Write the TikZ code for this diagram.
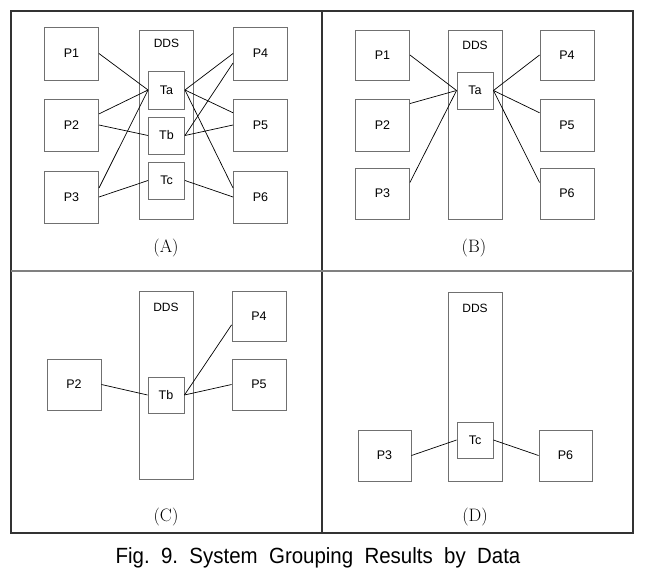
\documentclass[tikz,border=0pt]{standalone}
\usepackage{fontspec}
\setsansfont{Liberation Sans}
\newfontfamily\capfont[FakeStretch=0.93]{Liberation Sans}
\usetikzlibrary{calc}
\definecolor{boxgray}{HTML}{707070}
\definecolor{framegray}{HTML}{333333}
\begin{document}
\begin{tikzpicture}[x=1pt,y=-1pt,
  pbox/.style={draw=boxgray,line width=0.9pt,minimum width=54pt,minimum height=51pt,inner sep=0pt,font=\sffamily\fontsize{12.5}{12.5}\selectfont},
  tbox/.style={draw=boxgray,line width=0.9pt,minimum width=36pt,minimum height=37pt,inner sep=0pt,font=\sffamily\fontsize{12.5}{12.5}\selectfont},
  ddsbox/.style={draw=boxgray,line width=0.9pt,minimum width=54pt,minimum height=189pt,inner sep=0pt},
  ddslabel/.style={font=\sffamily\fontsize{12}{12}\selectfont,inner sep=0pt},
  panellabel/.style={font=\fontsize{18}{18}\selectfont,inner sep=0pt},
  conn/.style={draw=black,line width=0.7pt},
  frame/.style={draw=framegray,line width=1.8pt}
]
\useasboundingbox (0,0) rectangle (653,575);
% frame
\draw[frame] (11,11) rectangle (633,533);
\coordinate (vt) at (322,11);
\coordinate (vb) at (322,533);
\coordinate (hl) at (11,271);
\coordinate (hr) at (633,271);
\draw[frame,line width=1.2pt] (vt) -- (vb);
\draw[frame,draw=gray,line width=1.6pt] (hl) -- (hr);

% ---------- Panel A ----------
\node[ddsbox] (ddsA) at (166.5,125) {};
\node[ddslabel] (ddsAl) at (166.5,43) {DDS};
\node[pbox,minimum height=53pt] (A1) at (71.5,53.5) {P1};
\node[pbox,minimum height=52pt] (A2) at (71.5,125) {P2};
\node[pbox,minimum height=52pt] (A3) at (71.5,197) {P3};
\node[pbox,minimum height=53pt] (A4) at (260.5,53.5) {P4};
\node[pbox,minimum height=52pt] (A5) at (260.5,125) {P5};
\node[pbox,minimum height=52pt] (A6) at (260.5,197) {P6};
\node[tbox,minimum height=38pt] (Ta) at (166.5,90) {Ta};
\node[tbox] (Tb) at (166.5,135.5) {Tb};
\node[tbox] (Tc) at (166.5,180.5) {Tc};
\draw[conn] (A1.east) -- (Ta.west);
\draw[conn] (A2.22) -- (Ta.west);
\draw[conn] (A2.east) -- (Tb.west);
\draw[conn] (A3.18) -- (Ta.west);
\draw[conn] (A3.east) -- (Tc.west);
\draw[conn] (Ta.east) -- (A4.west);
\draw[conn] (Ta.east) -- (A5.156);
\draw[conn] (Ta.east) -- (A6.162);
\draw[conn] (Tb.east) -- (A4.199);
\draw[conn] (Tb.east) -- (A5.west);
\draw[conn] (Tc.east) -- (A6.west);
\node[panellabel] (labA) at (166,248) {(A)};

% ---------- Panel B ----------
\node[ddsbox] (ddsB) at (475,124.5) {};
\node[ddslabel] (ddsBl) at (475,45) {DDS};
\node[pbox,minimum height=50pt] (B1) at (382.5,55) {P1};
\node[pbox,minimum height=52pt] (B2) at (382.5,125) {P2};
\node[pbox] (B3) at (382.5,193.5) {P3};
\node[pbox,minimum height=50pt] (B4) at (567,55) {P4};
\node[pbox,minimum height=52pt] (B5) at (567,125) {P5};
\node[pbox] (B6) at (567,193.5) {P6};
\node[tbox] (TaB) at (475,90.5) {Ta};
\draw[conn] (B1.east) -- (TaB.west);
\draw[conn] (B2.38) -- (TaB.west);
\draw[conn] (B3.22) -- (TaB.west);
\draw[conn] (TaB.east) -- (B4.west);
\draw[conn] (TaB.east) -- (B5.156);
\draw[conn] (TaB.east) -- (B6.158);
\node[panellabel] (labB) at (474,248) {(B)};

% ---------- Panel C ----------
\node[ddsbox,minimum height=188pt] (ddsC) at (166,385) {};
\node[ddslabel] (ddsCl) at (166,307) {DDS};
\node[pbox] (C2) at (74,384.5) {P2};
\node[pbox,minimum height=50pt] (C4) at (259,316) {P4};
\node[pbox] (C5) at (259,384.5) {P5};
\node[tbox,minimum height=36pt] (TbC) at (166,395) {Tb};
\draw[conn] (C2.east) -- (TbC.west);
\draw[conn] (TbC.east) -- (C4.198);
\draw[conn] (TbC.east) -- (C5.west);
\node[panellabel] (labC) at (166,517) {(C)};

% ---------- Panel D ----------
\node[ddsbox] (ddsD) at (475,386.5) {};
\node[ddslabel] (ddsDl) at (475,308) {DDS};
\node[pbox,minimum width=53pt] (D3) at (384.5,455.5) {P3};
\node[pbox,minimum width=53pt] (D6) at (565.5,455.5) {P6};
\node[tbox,minimum height=36pt] (TcD) at (475,440) {Tc};
\draw[conn] (D3.east) -- (TcD.west);
\draw[conn] (TcD.east) -- (D6.west);
\node[panellabel] (labD) at (475,517) {(D)};

% caption
\node[inner sep=0pt,anchor=base,font=\capfont\fontsize{22}{22}\selectfont] (cap) at (318,563) {Fig.\ \ 9.\ \ System\ \ Grouping\ \ Results\ \ by\ \ Data};
\end{tikzpicture}
\end{document}
